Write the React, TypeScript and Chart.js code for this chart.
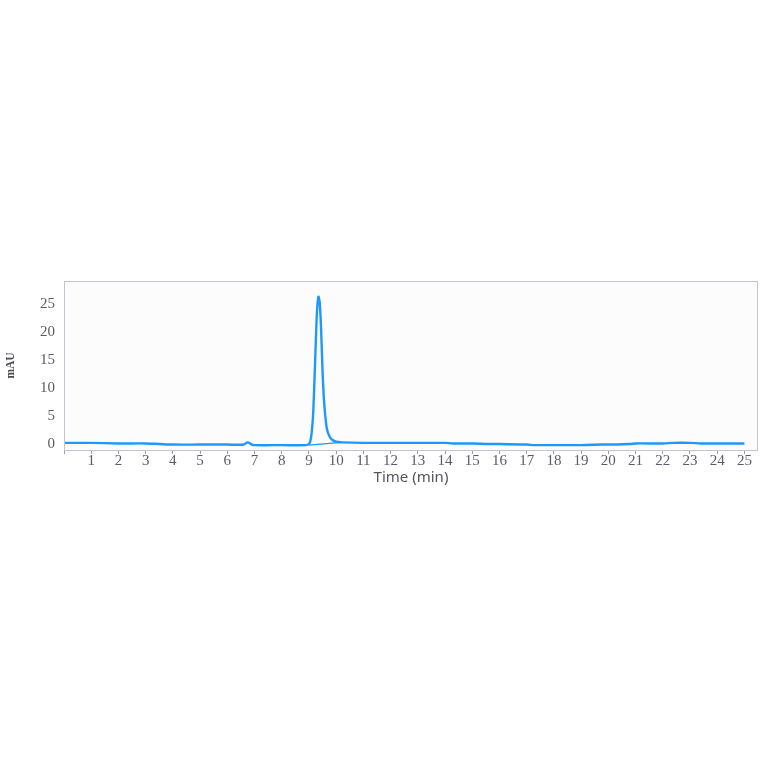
import React, { useEffect, useRef } from 'react';
import { Chart, registerables, Plugin } from 'chart.js';

Chart.register(...registerables);

// retention time (min) and absorbance (mAU)
const times = [
  0, 1, 2, 3, 3.5, 4, 5, 6, 6.6, 6.75, 6.9, 7, 8, 8.9,
  9.0, 9.05, 9.1, 9.15, 9.2, 9.25, 9.3, 9.35, 9.4, 9.45, 9.5, 9.55, 9.6, 9.65, 9.7, 9.8, 9.9, 10.0, 10.2,
  11, 12, 13, 14, 14.3, 15, 15.6, 16, 17, 17.3, 18, 19, 19.8, 20, 20.8, 21, 22, 22.4, 23, 23.4, 24, 25,
];
const signal = [
  0.2, 0.2, 0.1, 0.1, 0, -0.1, -0.1, -0.1, -0.1, 0.3, -0.1, -0.2, -0.2, -0.2,
  0, 0.5, 2, 5, 11, 18, 24, 26.3, 25, 20, 13, 8, 5, 3, 2, 1, 0.6, 0.4, 0.3,
  0.2, 0.2, 0.2, 0.2, 0.1, 0.1, 0, 0, -0.1, -0.2, -0.2, -0.2, -0.1, -0.1, 0, 0.1, 0.1, 0.2, 0.2, 0.1, 0.1, 0.1,
];

// integration baseline under the peak
const baselineTimes = [9.0, 10.2];
const baselineValues = [-0.2, 0.3];

const xTicks = [0, 1, 2, 3, 4, 5, 6, 7, 8, 9, 10, 11, 12, 13, 14, 15, 16, 17, 18, 19, 20, 21, 22, 23, 24, 25];
const yTicks = [0, 5, 10, 15, 20, 25];

const frame: Plugin = {
  id: 'frame',
  beforeDraw(chart) {
    const { ctx, chartArea: a } = chart;
    ctx.save();
    ctx.fillStyle = '#fcfcfd';
    ctx.fillRect(a.left, a.top, a.right - a.left, a.bottom - a.top);
    ctx.restore();
  },
  afterDraw(chart) {
    const { ctx, chartArea: a } = chart;
    ctx.save();
    ctx.strokeStyle = '#c3c3d2';
    ctx.lineWidth = 1;
    ctx.strokeRect(a.left + 0.5, a.top + 0.5, a.right - a.left - 1, a.bottom - a.top);
    ctx.restore();
  },
};

const App: React.FC = () => {
  const canvasRef = useRef<HTMLCanvasElement>(null);
  const chartRef = useRef<Chart | null>(null);

  useEffect(() => {
    if (!canvasRef.current) return;
    if (chartRef.current) chartRef.current.destroy();

    const tickFont = { family: '"Liberation Serif", serif', size: 15 };

    chartRef.current = new Chart(canvasRef.current, {
      type: 'line',
      data: {
        datasets: [
          {
            label: 'Signal',
            data: times.map((t, i) => ({ x: t, y: signal[i] })),
            borderColor: '#1e98fc',
            borderWidth: 2.4,
            pointRadius: 0,
            tension: 0.3,
          },
          {
            label: 'Baseline',
            data: baselineTimes.map((t, i) => ({ x: t, y: baselineValues[i] })),
            borderColor: '#1e98fc',
            borderWidth: 1.2,
            pointRadius: 0,
          },
        ],
      },
      options: {
        animation: false,
        responsive: true,
        maintainAspectRatio: false,
        layout: { padding: { top: 11, right: 6, left: 0, bottom: 0 } },
        plugins: {
          legend: { display: false },
          tooltip: { enabled: false },
        },
        scales: {
          x: {
            type: 'linear',
            min: 0,
            max: 25.5,
            afterBuildTicks: (s) => {
              s.ticks = xTicks.map((v) => ({ value: v }));
            },
            grid: { display: true, drawOnChartArea: false, tickLength: 4, color: '#9a9aaa' },
            border: { display: false },
            ticks: {
              color: '#5a5a6a',
              font: tickFont,
              padding: -2,
              maxRotation: 0,
              autoSkip: false,
              callback: (v) => (Number(v) === 0 ? '' : String(v)),
            },
            title: {
              display: true,
              text: 'Time (min)',
              color: '#555560',
              font: { family: '"Noto Sans", sans-serif', size: 15 },
              padding: { top: 0, bottom: 3 },
            },
            afterFit: (s) => {
              s.height = 40;
              s.paddingLeft = 0;
              s.paddingRight = 0;
            },
          },
          y: {
            type: 'linear',
            min: -1.07,
            max: 29.1,
            afterBuildTicks: (s) => {
              s.ticks = yTicks.map((v) => ({ value: v }));
            },
            grid: { display: false },
            border: { display: false },
            ticks: {
              color: '#5a5a6a',
              font: tickFont,
              padding: 1,
            },
            title: {
              display: true,
              text: 'mAU',
              color: '#4a4a55',
              font: { family: '"Liberation Serif", serif', size: 11.5, weight: 'bold' },
              padding: { top: 4, bottom: 0 },
            },
            afterFit: (s) => {
              s.width = 64;
              s.paddingTop = 0;
              s.paddingBottom = 0;
            },
          },
        },
      },
      plugins: [frame],
    });

    return () => {
      if (chartRef.current) {
        chartRef.current.destroy();
        chartRef.current = null;
      }
    };
  }, []);

  return (
    <div style={{ position: 'absolute', left: 0, top: 0, width: 764, height: 764, background: '#fff' }}>
      <div style={{ position: 'absolute', left: 0, top: 270, width: 764, height: 220 }}>
        <canvas ref={canvasRef}></canvas>
      </div>
    </div>
  );
};

export default App;
